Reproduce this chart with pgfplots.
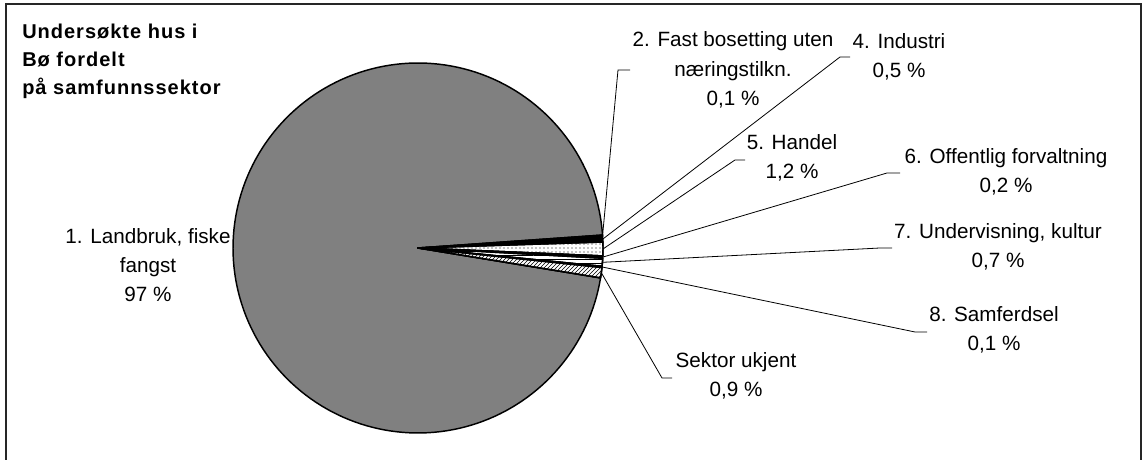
\documentclass[border=0pt]{standalone}
\usepackage{pgfplots}
\pgfplotsset{compat=1.18}
\usepackage{fontspec}
\setmainfont{Liberation Sans}
\usetikzlibrary{patterns}

% running angle (degrees, math orientation); Excel draws clockwise
\xdef\curang{350.7}
\newcommand\slice[4]{%
  \pgfmathsetmacro\sa{\curang-3.6*#1}%
  \pgfmathsetmacro\ma{\curang-1.8*#1}%
  \edef\temp{\noexpand\addplot[#2,line width=1.1pt,line join=round,domain=\sa:\curang,samples=180]
     ({418+185*cos(x)},{212+185*sin(x)}) -- (axis cs:418,212) -- cycle;}%
  \temp
  \ifx\relax#3\relax\else
  \edef\temp{\noexpand\draw[line width=0.6pt] (axis cs:{418+185*cos(\ma)},{212+185*sin(\ma)}) -- (axis cs:#3) -- (axis cs:#4);}%
  \temp\fi
  \xdef\curang{\sa}}

\begin{document}
\begin{tikzpicture}
\begin{axis}[
  scale only axis, width=860.25pt, height=345pt,
  xmin=0, xmax=1147, ymin=0, ymax=460,
  hide axis, clip=false,
]
% values in percent
\slice{96.3}{draw=black, fill=black!50}{}{}
\slice{0.1}{draw=black, fill=black}{618,390}{630,390}
\slice{0.5}{draw=black, fill=black}{840,403}{850,403}
\slice{1.2}{draw=black, fill=white, postaction={pattern=dots}}{735,300}{745,300}
\slice{0.2}{draw=black, fill=black}{887,287}{900,287}
\slice{0.7}{draw=black, fill=white, postaction={pattern=horizontal lines}}{880,212}{892,212}
\slice{0.1}{draw=black, fill=black}{915,128}{927,128}
\slice{0.9}{draw=black, fill=white, postaction={pattern=north east lines}}{662,82}{672,82}

\begin{scope}[every node/.style={font=\fontsize{15.5}{22}\selectfont, align=center, inner sep=0pt}]
\node at (axis cs:148,195) {1. Landbruk, fiske\\fangst\\97 \%};
\node at (axis cs:733,390) {2. Fast bosetting uten\\næringstilkn.\\0,1 \%};
\node at (axis cs:899,403) {4. Industri\\0,5 \%};
\node at (axis cs:792,302) {5. Handel\\1,2 \%};
\node at (axis cs:1006,288) {6. Offentlig forvaltning\\0,2 \%};
\node at (axis cs:998,213) {7. Undervisning, kultur\\0,7 \%};
\node at (axis cs:994,130) {8. Samferdsel\\0,1 \%};
\node at (axis cs:736,84) {Sektor ukjent\\0,9 \%};
\end{scope}
\node[anchor=north west, align=left, inner sep=0pt,
      font=\fontsize{15}{21}\selectfont\bfseries\addfontfeatures{LetterSpace=5}]
  at (axis cs:22,436) {Undersøkte hus i\\Bø fordelt\\på samfunnssektor};
\draw[line width=1.1pt, black!85] (axis cs:6,0) -- (axis cs:6,456) -- (axis cs:1141,456) -- (axis cs:1141,0);
\end{axis}
\pgfresetboundingbox
\path[use as bounding box] (current axis.south west) rectangle (current axis.north east);
\end{tikzpicture}
\end{document}
